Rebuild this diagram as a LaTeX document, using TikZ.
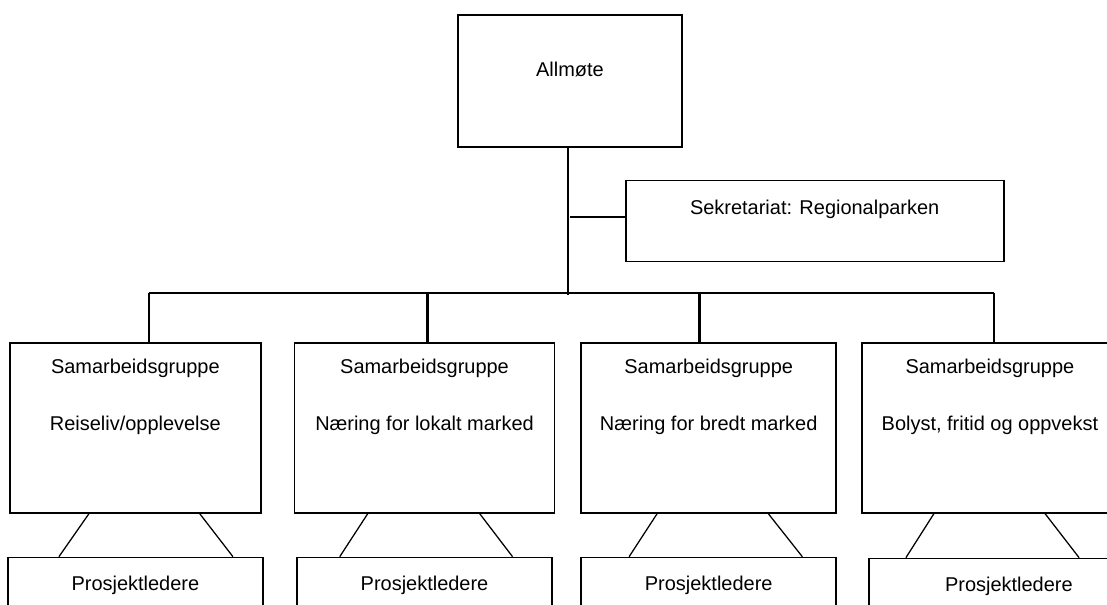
\documentclass[tikz,border=0pt]{standalone}
\usepackage{fontspec}
\setmainfont{Liberation Sans}
\usetikzlibrary{positioning}

\begin{document}
\begin{tikzpicture}
    [font=\fontsize{14.2}{17}\selectfont,
    % STYLES
    % The unit style is used for every framed box
    unit/.style={rectangle, draw, line width=1.2pt, inner sep=0pt, text centered},
    % The group style is used for the four cooperation groups
    group/.style={unit, align=center, text height=2.2cm, text depth=2.05cm},
    % The leader style is used for the project leader boxes
    leader/.style={unit, minimum width=6.375cm, text height=0.825cm, text depth=1.5cm},
    % The link style is used for the vertical drops
    link/.style={line width=2pt}]

    \useasboundingbox (0,0) rectangle (27.675,-15.125);

    % Draw the top boxes
    \node [unit, anchor=north, minimum width=5.6cm, text height=1.55cm, text depth=1.75cm] (allmote) at (14.25,-0.35) {Allmøte};
    \node [unit, below right=0.8cm and -1.45cm of allmote.south east, minimum width=9.45cm, text height=0.85cm, text depth=1.175cm] (sekr) {Sekretariat: Regionalparken};

    % Draw the groups
    \node [group, anchor=north west, minimum width=6.275cm] (grp1) at (0.225,-8.55) {Samarbeidsgruppe\\[0.83cm]Reiseliv/opplevelse};
    \node [group, right=0.8cm of grp1, minimum width=6.5cm] (grp2) {Samarbeidsgruppe\\[0.83cm]Næring for lokalt marked};
    \node [group, right=0.625cm of grp2, minimum width=6.375cm] (grp3) {Samarbeidsgruppe\\[0.83cm]Næring for bredt marked};
    \node [group, right=0.6cm of grp3, minimum width=6.4cm] (grp4) {Samarbeidsgruppe\\[0.83cm]Bolyst, fritid og oppvekst};

    % Draw the project leaders
    \node [leader, below=1.075cm of grp1] (prj1) {Prosjektledere};
    \node [leader, below=1.075cm of grp2] (prj2) {Prosjektledere};
    \node [leader, below=1.075cm of grp3] (prj3) {Prosjektledere};
    \node [leader, below right=1.1cm and 0.175cm of grp4.south west, minimum width=7cm] (prj4) {Prosjektledere};

    % Draw the links between boxes
    \coordinate (bus) at (0,-7.325);
    \draw [line width=1.8pt] ([xshift=-0.05cm]allmote.south) -- ([xshift=-0.05cm,yshift=-0.05cm]allmote.south |- bus);
    \draw [line width=1.6pt] ([yshift=0.11cm]sekr.west) -- ([yshift=0.11cm]sekr.west -| allmote.south);
    \draw [line width=1.2pt] ([xshift=0.34cm]grp1.north |- bus) -- ([xshift=0.1cm]grp4.north |- bus);
    \path [link]
    ([xshift=0.34cm]grp1.north |- bus) edge ([xshift=0.34cm]grp1.north)
    ([xshift=0.08cm]grp2.north |- bus) edge ([xshift=0.08cm]grp2.north)
    ([xshift=-0.24cm]grp3.north |- bus) edge ([xshift=-0.24cm]grp3.north)
    ([xshift=0.1cm]grp4.north |- bus) edge ([xshift=0.1cm]grp4.north);

    % Draw the legs down to the project leaders
    \draw [line width=0.9pt]
    ([xshift=-1.16cm]grp1.south) -- ([xshift=-1.91cm]grp1.south |- prj1.north)
    ([xshift=1.61cm]grp1.south) -- ([xshift=2.44cm]grp1.south |- prj1.north)
    ([xshift=-1.42cm]grp2.south) -- ([xshift=-2.12cm]grp2.south |- prj2.north)
    ([xshift=1.38cm]grp2.south) -- ([xshift=2.2cm]grp2.south |- prj2.north)
    ([xshift=-1.29cm]grp3.south) -- ([xshift=-1.99cm]grp3.south |- prj3.north)
    ([xshift=1.49cm]grp3.south) -- ([xshift=2.34cm]grp3.south |- prj3.north)
    ([xshift=-1.4cm]grp4.south) -- ([xshift=-2.1cm]grp4.south |- prj4.north)
    ([xshift=1.38cm]grp4.south) -- ([xshift=2.23cm]grp4.south |- prj4.north);
\end{tikzpicture}
\end{document}
